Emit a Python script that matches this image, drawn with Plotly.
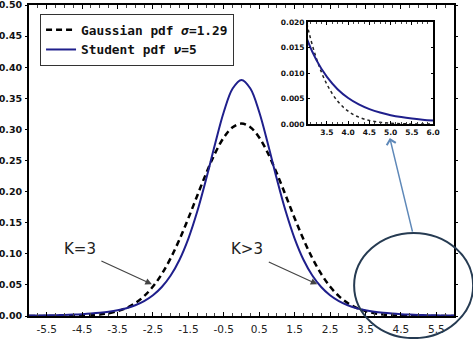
import plotly.graph_objects as go

# x positions (shared by both pdf series)
x_vals = [-6.0, -5.75, -5.5, -5.25, -5.0, -4.75, -4.5, -4.25, -4.0, -3.75, -3.5, -3.25,
          -3.0, -2.75, -2.5, -2.25, -2.0, -1.75, -1.5, -1.25, -1.0, -0.75, -0.5, -0.25,
          0.0, 0.25, 0.5, 0.75, 1.0, 1.25, 1.5, 1.75, 2.0, 2.25, 2.5, 2.75,
          3.0, 3.25, 3.5, 3.75, 4.0, 4.25, 4.5, 4.75, 5.0, 5.25, 5.5, 5.75, 6.0]

gauss_vals = [0.0000062, 0.000015, 0.0000349, 0.0000784, 0.000169, 0.000352, 0.000705, 0.00136,
              0.002527, 0.004521, 0.007794, 0.01294, 0.0207, 0.03188, 0.0473, 0.0676,
              0.093, 0.1232, 0.1573, 0.1934, 0.229, 0.2612, 0.2869, 0.3035,
              0.3093, 0.3035, 0.2869, 0.2612, 0.229, 0.1934, 0.1573, 0.1232,
              0.093, 0.0676, 0.0473, 0.03188, 0.0207, 0.01294, 0.007794, 0.004521,
              0.002527, 0.00136, 0.000705, 0.000352, 0.000169, 0.0000784, 0.0000349, 0.000015, 0.0000062]

student_vals = [0.000688, 0.00086, 0.001083, 0.001374, 0.001757, 0.002266, 0.002948, 0.003868,
                0.005124, 0.00685, 0.009244, 0.01259, 0.01729, 0.02393, 0.03333, 0.04657,
                0.0651, 0.0905, 0.1245, 0.1679, 0.2197, 0.2757, 0.3279, 0.3657,
                0.3796, 0.3657, 0.3279, 0.2757, 0.2197, 0.1679, 0.1245, 0.0905,
                0.0651, 0.04657, 0.03333, 0.02393, 0.01729, 0.01259, 0.009244, 0.00685,
                0.005124, 0.003868, 0.002948, 0.002266, 0.001757, 0.001374, 0.001083, 0.00086, 0.000688]

main_xticks = [-5.5, -4.5, -3.5, -2.5, -1.5, -0.5, 0.5, 1.5, 2.5, 3.5, 4.5, 5.5]
main_xlabels = ["-5.5", "-4.5", "-3.5", "-2.5", "-1.5", "-0.5", "0.5", "1.5", "2.5", "3.5", "4.5", "5.5"]
main_yticks = [0.0, 0.05, 0.10, 0.15, 0.20, 0.25, 0.30, 0.35, 0.40, 0.45, 0.50]
inset_xticks = [3.5, 4.0, 4.5, 5.0, 5.5, 6.0]
inset_xlabels = ["3.5", "4.0", "4.5", "5.0", "5.5", "6.0"]
inset_yticks = [0.0, 0.005, 0.010, 0.015, 0.020]

NAVY = "#1f1f8c"

fig = go.Figure()
fig.add_trace(go.Scatter(x=x_vals, y=gauss_vals, mode="lines", line_shape="spline",
                         name="Gaussian pdf <i>σ</i>=1.29",
                         line=dict(color="black", width=2.5, dash="6px,4px")))
fig.add_trace(go.Scatter(x=x_vals, y=student_vals, mode="lines", line_shape="spline",
                         name="Student pdf <i>ν</i>=5",
                         line=dict(color=NAVY, width=2)))
# inset
fig.add_trace(go.Scatter(x=x_vals, y=gauss_vals, mode="lines", line_shape="spline",
                         showlegend=False, xaxis="x2", yaxis="y2",
                         line=dict(color="#222222", width=1.5, dash="dot")))
fig.add_trace(go.Scatter(x=x_vals, y=student_vals, mode="lines", line_shape="spline",
                         showlegend=False, xaxis="x2", yaxis="y2",
                         line=dict(color=NAVY, width=2)))

tickfont_y = dict(family="DejaVu Sans", size=9.5, color="#111", weight="bold")
tickfont_x = dict(family="DejaVu Sans", size=10.5, color="#222")
inset_font = dict(family="DejaVu Sans", size=7.5, color="#111", weight="bold")

fig.update_layout(
    width=473, height=339,
    margin=dict(l=29, r=19, t=5, b=23, autoexpand=False),
    paper_bgcolor="white", plot_bgcolor="white",
    showlegend=True,
    legend=dict(x=0.026, y=0.971, xanchor="left", yanchor="top",
                bordercolor="#333", borderwidth=1, bgcolor="white",
                font=dict(family="DejaVu Sans Mono", size=12.8, color="#111", weight="bold"),
                tracegroupgap=0, itemwidth=30),
    xaxis=dict(range=[-6, 6], tickvals=main_xticks, ticktext=main_xlabels,
               showline=True, mirror="ticks", linecolor="black", linewidth=2,
               ticks="inside", ticklen=4, tickcolor="black", tickwidth=1,
               minor=dict(dtick=0.25, tick0=0, ticks="inside", ticklen=3, tickcolor="#444"),
               showgrid=False, zeroline=False, tickfont=tickfont_x, ticklabelstandoff=2,
               automargin=False, ticklabeloverflow="allow"),
    yaxis=dict(range=[0, 0.5], tickvals=main_yticks, tickformat=".2f",
               showline=True, mirror="ticks", linecolor="black", linewidth=2,
               ticks="outside", ticklen=2, tickcolor="black", tickwidth=1,
               showgrid=False, zeroline=False, tickfont=tickfont_y, automargin=False,
               ticklabelstandoff=1, ticklabeloverflow="allow"),
    xaxis2=dict(domain=[0.656, 0.951], anchor="y2", range=[3.05, 6],
                tickvals=inset_xticks, ticktext=inset_xlabels,
                showline=True, mirror="ticks", linecolor="black", linewidth=1.5,
                ticks="inside", ticklen=3, tickcolor="black",
                minor=dict(dtick=0.125, ticks="inside", ticklen=2, tickcolor="#444"),
                showgrid=False, zeroline=False, tickfont=inset_font, ticklabelstandoff=0,
                automargin=False, ticklabeloverflow="allow"),
    yaxis2=dict(domain=[0.617, 0.945], anchor="x2", range=[0, 0.02],
                tickvals=inset_yticks, tickformat=".3f",
                showline=True, mirror="ticks", linecolor="black", linewidth=1.5,
                ticks="inside", ticklen=2, tickcolor="black",
                showgrid=False, zeroline=False, tickfont=inset_font, automargin=False,
                ticklabeloverflow="allow"),
)

ann_font = dict(family="DejaVu Sans", size=15, color="#222")
fig.add_annotation(x=-4.56, y=0.108, xref="x", yref="y", text="K=3",
                   showarrow=False, font=ann_font)
fig.add_annotation(x=0.16, y=0.108, xref="x", yref="y", text="K>3",
                   showarrow=False, font=ann_font)
fig.add_annotation(x=-2.53, y=0.051, xref="x", yref="y", text="", showarrow=True,
                   ax=-52, ay=-24, arrowhead=2, arrowsize=1.1, arrowwidth=1.2, arrowcolor="#444")
fig.add_annotation(x=2.14, y=0.051, xref="x", yref="y", text="", showarrow=True,
                   ax=-50, ay=-23, arrowhead=2, arrowsize=1.1, arrowwidth=1.2, arrowcolor="#444")

# ellipse highlighting the tail region
fig.add_shape(type="circle", xref="paper", yref="paper",
              x0=0.765, x1=1.045, y0=-0.071, y1=0.267,
              line=dict(color="#263b52", width=2))
# arrow from the ellipse to the inset
fig.add_annotation(x=0.849, y=0.572, xref="paper", yref="paper", text="", showarrow=True,
                   ax=23, ay=95, arrowhead=4, arrowsize=1.2, arrowwidth=1.5, arrowcolor="#5e88b8")

fig.write_html("out.html", config={"displayModeBar": False},
               post_script="document.body.style.margin='0px';document.body.style.overflow='hidden';")
